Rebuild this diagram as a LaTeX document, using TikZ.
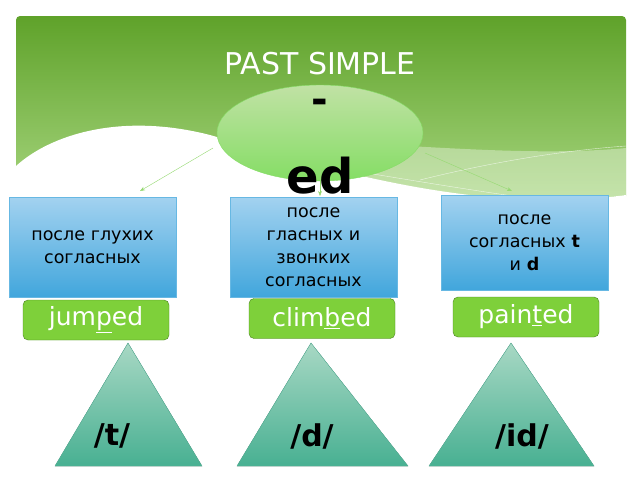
\documentclass[tikz,border=0pt]{standalone}
\usepackage{fontspec}
\setmainfont{DejaVu Sans}
\usetikzlibrary{shapes.geometric,arrows.meta}
\definecolor{gtop}{HTML}{5FA22A}
\definecolor{gbot}{HTML}{A6D57E}
\definecolor{btop}{HTML}{A3D2F0}
\definecolor{bbot}{HTML}{41A6DC}
\definecolor{pill}{HTML}{7ED03A}
\definecolor{triT}{HTML}{A8D8C4}
\definecolor{triB}{HTML}{48B092}
\tikzset{
 box/.style={draw=bbot!80!white,top color=btop,bottom color=bbot,minimum width=167pt,minimum height=100pt,text width=160pt,align=center,font=\fontsize{17.5}{23}\selectfont,inner sep=0pt},
 pillbox/.style={draw=gtop!80!black,fill=pill,rounded corners=5pt,minimum width=146pt,minimum height=40pt,text=white,font=\fontsize{25}{25}\selectfont,inner sep=0pt},
 tri/.style={draw=triB!90!white,top color=triT,bottom color=triB},
 arr/.style={draw=gbot!90!green,-{Stealth[length=5pt]}},
 lbl/.style={font=\bfseries\fontsize{30}{30}\selectfont}
}
\begin{document}
\begin{tikzpicture}[x=1pt,y=-1pt]
\useasboundingbox (0,0) rectangle (640,480);
\fill[white] (0,0) rectangle (640,480);
% green header
\shade[top color=gtop,bottom color=gbot,rounded corners=4pt] (16,200) -- (16,16) -- (626,16) -- (626,200) -- cycle;
\fill[white] (16,166) .. controls (50,135) and (120,112) .. (210,135) .. controls (330,170) and (480,215) .. (626,195) -- (626,201) -- (16,201) -- cycle;
\fill[white,opacity=0.35] (180,140) .. controls (350,135) and (500,160) .. (626,148) -- (626,195) .. controls (480,215) and (330,170) .. (180,140);
\draw[white,opacity=0.7] (200,145) .. controls (380,175) and (520,200) .. (626,210);
\draw[white,opacity=0.7] (420,180) .. controls (500,160) and (570,150) .. (626,146);
\node[font=\fontsize{30}{30}\selectfont,text=white] (title) at (320,64) {PAST SIMPLE};
% ellipse
\node[ellipse,draw=gbot!80!green,top color=gbot!70!white,bottom color=gbot!80!green,minimum width=206pt,minimum height=96pt] (ell) at (320,133) {};
\node[font=\bfseries\fontsize{40}{40}\selectfont] (dash) at (320,106) {-};
\node[font=\bfseries\fontsize{48}{48}\selectfont] (ed) at (320,176) {ed};
% boxes
\node[box] (b1) at (92.5,247) {после глухих\\согласных};
\node[box] (b2) at (313.5,247) {после\\гласных и\\звонких\\согласных};
\node[box,minimum height=95pt] (b3) at (524.5,242.5) {после\\согласных \textbf{t}\\и \textbf{d}};
\coordinate (a1s) at (213,148); \coordinate (a3s) at (425,153); \coordinate (a2s) at (320,170);
\coordinate (a1e) at (140,191); \coordinate (a3e) at (512,191); \coordinate (a2e) at (320,196);
\draw[arr] (a1s) -- (a1e);
\draw[arr] (a3s) -- (a3e);
\draw[arr] (a2s) -- (a2e);
% pills
\node[pillbox] (p1) at (96,320) {jum\underline{p}ed};
\node[pillbox] (p2) at (322,318.5) {clim\underline{b}ed};
\node[pillbox] (p3) at (526,317) {pain\underline{t}ed};
% triangles
\filldraw[tri] (128,343) -- (202,466) -- (55,466) -- cycle;
\filldraw[tri] (311,343) -- (408,466) -- (237,466) -- cycle;
\filldraw[tri] (511,343) -- (594,466) -- (429,466) -- cycle;
\node[lbl] (t1) at (112,436) {/t/};
\node[lbl] (t2) at (312,436) {/d/};
\node[lbl] (t3) at (522,436) {/id/};
\end{tikzpicture}
\end{document}
